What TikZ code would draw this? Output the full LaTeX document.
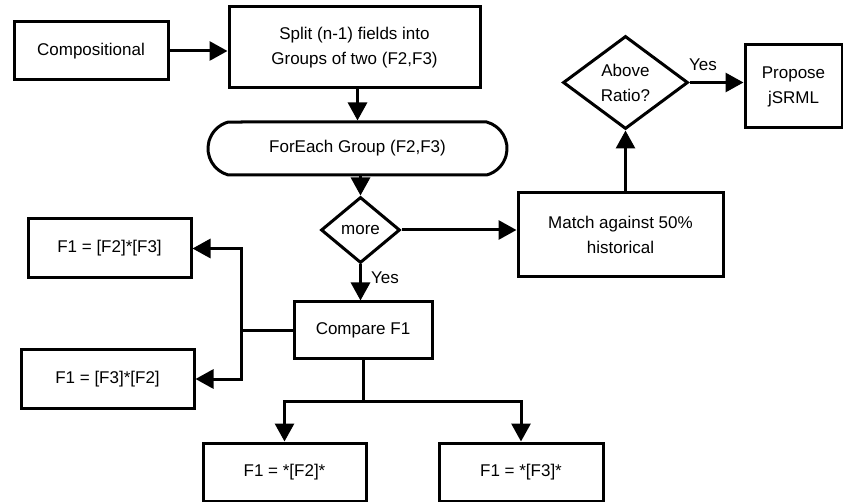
\documentclass[tikz,border=0pt]{standalone}
\usepackage{fontspec}
\setmainfont{Liberation Sans}
\usetikzlibrary{arrows.meta,shapes.geometric,shapes.misc}
\begin{document}
\begin{tikzpicture}[x=1pt,y=-1pt,
  every node/.style={font=\fontsize{17}{25}\selectfont},
  box/.style={draw,line width=3pt,rectangle,inner sep=0pt,align=center},
  decision/.style={draw,line width=3pt,diamond,inner sep=0pt,align=center},
  loopbox/.style={draw,line width=3pt,rounded rectangle,rounded rectangle arc length=150,inner sep=0pt,align=center},
  flow/.style={line width=3pt,-{Triangle[length=18pt,width=19pt]}},
  link/.style={line width=3pt},
  lbl/.style={inner sep=1pt}
]
\useasboundingbox (0,0) rectangle (843,502);

% process boxes
\node[box,minimum width=154pt,minimum height=58pt] (comp) at (91,51) {Compositional};
\node[box,minimum width=251pt,minimum height=81pt] (split) at (354.5,47.5) {Split (n-1) fields into\\Groups of two (F2,F3)};
\node[loopbox,minimum width=299pt,minimum height=53pt] (foreach) at (357.5,148.5) {ForEach Group (F2,F3)};
\node[decision,minimum width=79pt,minimum height=66pt] (more) at (360.5,230) {more};
\node[box,minimum width=205pt,minimum height=84pt] (match) at (620.5,235) {Match against 50\%\\historical};
\node[decision,minimum width=125pt,minimum height=93pt] (ratio) at (625.5,82.5) {Above\\Ratio?};
\node[box,minimum width=97pt,minimum height=83pt] (propose) at (793.5,86.5) {Propose\\jSRML};
\node[box,minimum width=138pt,minimum height=57pt] (compare) at (363,330.5) {Compare F1};
\node[box,minimum width=163pt,minimum height=59pt] (fa) at (109.5,248.5) {F1 = [F2]*[F3]};
\node[box,minimum width=173pt,minimum height=58pt] (fb) at (107.5,379) {F1 = [F3]*[F2]};
\node[box,minimum width=163pt,minimum height=58pt] (fc) at (284.5,472) {F1 = *[F2]*};
\node[box,minimum width=164pt,minimum height=58pt] (fd) at (521,472) {F1 = *[F3]*};

% branch points
\coordinate (jl) at (241,330.5);
\coordinate (jb) at (363,401);

% connectors
\draw[flow] (comp) -- (split.west |- comp);
\draw[flow] (split.south -| foreach) -- (foreach.north);
\draw[flow] (foreach.south -| more) -- (more.north);
\draw[flow] (more.east) -- (more.east -| match.west);
\draw[flow] (ratio.south |- match.north) -- (ratio.south);
\draw[flow] (ratio.east) -- (ratio.east -| propose.west);
\node[lbl] (yes1) at (703,65) {Yes};
\draw[flow] (more.south) -- (compare.north -| more.south);
\node[lbl,anchor=west] (yes2) at (370,278) {Yes};

\draw[link] (compare.west) -- (jl);
\draw[flow] (jl) |- (fa.east);
\draw[flow] (jl) |- (fb.east);

\draw[link] (compare.south) -- (jb);
\draw[flow] (jb) -| (fc.north);
\draw[flow] (jb) -| (fd.north);
\end{tikzpicture}
\end{document}
